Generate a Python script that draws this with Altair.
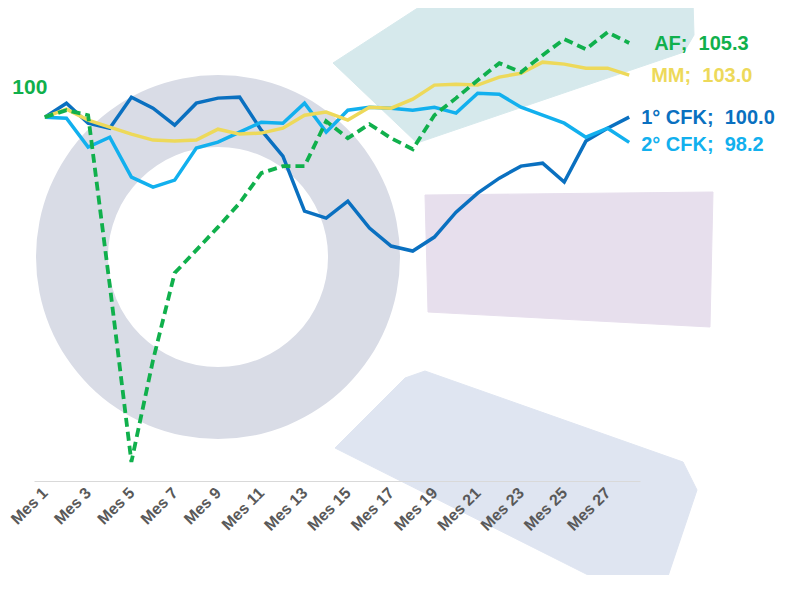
import altair as alt
import pandas as pd

# ---------------- data ----------------
MONTHS = ["Mes 1", "Mes 2", "Mes 3", "Mes 4", "Mes 5", "Mes 6", "Mes 7", "Mes 8",
          "Mes 9", "Mes 10", "Mes 11", "Mes 12", "Mes 13", "Mes 14", "Mes 15",
          "Mes 16", "Mes 17", "Mes 18", "Mes 19", "Mes 20", "Mes 21", "Mes 22",
          "Mes 23", "Mes 24", "Mes 25", "Mes 26", "Mes 27", "Mes 28"]
LABELED_MONTHS = ["Mes 1", "Mes 3", "Mes 5", "Mes 7", "Mes 9", "Mes 11", "Mes 13",
                  "Mes 15", "Mes 17", "Mes 19", "Mes 21", "Mes 23", "Mes 25", "Mes 27"]

CFK1 = [100.0, 101.0, 99.57, 99.21, 101.43, 100.64, 99.43, 101.0, 101.36, 101.43,
        99.07, 97.21, 93.29, 92.79, 94.0, 92.07, 90.79, 90.43, 91.43, 93.21,
        94.57, 95.64, 96.5, 96.71, 95.36, 98.29, 99.21, 100.0]
CFK2 = [100.0, 99.93, 97.86, 98.57, 95.71, 95.0, 95.5, 97.79, 98.21, 98.93,
        99.64, 99.57, 101.0, 98.93, 100.5, 100.71, 100.64, 100.5, 100.71, 100.29,
        101.71, 101.64, 100.71, 100.14, 99.57, 98.57, 99.21, 98.2]
MM = [100.0, 100.57, 99.79, 99.29, 98.79, 98.36, 98.29, 98.36, 99.14, 98.79,
      98.86, 99.21, 100.14, 100.36, 99.79, 100.71, 100.64, 101.29, 102.29, 102.36,
      102.29, 102.86, 103.14, 103.93, 103.79, 103.5, 103.5, 103.0]
AF = [100.0, 100.5, 100.14, 88.0, 75.36, 82.64, 88.86, 90.5, 92.14, 93.86,
      96.0, 96.5, 96.5, 99.71, 98.5, 99.5, 98.5, 97.71, 100.14, 101.36,
      102.64, 103.86, 103.21, 104.43, 105.57, 104.86, 106.07, 105.3]

SERIES = ["1° CFK", "2° CFK", "MM", "AF"]
END_LABELS = ["1° CFK;\u00a0 100.0", "2° CFK;\u00a0 98.2", "MM;\u00a0 103.0", "AF;\u00a0 105.3"]
START_LABEL = "100"

# ---------------- style ----------------
COLORS = {"1° CFK": "#0A70C0", "2° CFK": "#12B0EE", "MM": "#EDD95A", "AF": "#10B04C"}
LABEL_OFFSETS = {"1° CFK": (12, 1), "2° CFK": (12, 3), "MM": (22, 1), "AF": (25, 1)}
FONT = "Liberation Sans"

# decorative background shapes, in page pixel coordinates
RING = {"cx": 218, "cy": 257, "r_out": 182, "r_in": 110, "color": "#D9DCE6"}
TEAL = [(333, 63), (430, 0), (693, 0), (694, 35), (684, 52), (417, 143)]
LAVENDER = [(425, 195), (713, 192), (710, 327), (428, 312)]
BLUEGRAY = [(335, 448), (405, 378), (425, 371), (683, 462), (697, 490), (663, 591), (620, 591)]
SHAPE_COLORS = {"teal": "#D6E9EC", "lav": "#E7DFED", "blue": "#DFE5F1"}

# ---------------- layout ----------------
PLOT_W, PLOT_H = 606, 473
PAD_L, PAD_T = 26, 0
PAD_R, PAD_B = 137, 94
Y_DOMAIN = [74, 107.8]

DX = alt.Scale(domain=[PAD_L + 8, PAD_L + 8 + PLOT_W], nice=False, zero=False)
DY = alt.Scale(domain=[PAD_T + 8, PAD_T + 8 + PLOT_H], nice=False, zero=False, reverse=True)


def poly_layer(pts, color):
    df = pd.DataFrame({"i": list(range(len(pts))),
                       "px": [p[0] for p in pts],
                       "py": [p[1] for p in pts]})
    return alt.Chart(df).mark_line(
        fill=color, stroke=color, strokeWidth=1, interpolate="linear-closed"
    ).encode(
        x=alt.X("px:Q", scale=DX, axis=None),
        y=alt.Y("py:Q", scale=DY, axis=None),
        order="i:Q",
    )


ring_df = pd.DataFrame({"cx": [RING["cx"]], "cy": [RING["cy"]]})
ring = alt.Chart(ring_df).mark_arc(
    radius=RING["r_out"], radius2=RING["r_in"], theta=0, theta2=6.2832,
    color=RING["color"]
).encode(
    x=alt.X("cx:Q", scale=DX, axis=None),
    y=alt.Y("cy:Q", scale=DY, axis=None),
)

decor = alt.layer(
    ring,
    poly_layer(TEAL, SHAPE_COLORS["teal"]),
    poly_layer(LAVENDER, SHAPE_COLORS["lav"]),
    poly_layer(BLUEGRAY, SHAPE_COLORS["blue"]),
)

# ---------------- main chart ----------------
rows = []
for name, vals in zip(SERIES, [CFK1, CFK2, MM, AF]):
    for m, v in zip(MONTHS, vals):
        rows.append({"month": m, "series": name, "value": v})
df = pd.DataFrame(rows)

x_axis = alt.Axis(
    values=LABELED_MONTHS, labelAngle=-45, labelAlign="right", labelBaseline="middle",
    labelFont=FONT, labelFontWeight="bold", labelFontSize=16, labelColor="#595959",
    ticks=False, domainColor="#D9D9D9", domainWidth=1, grid=False, title=None,
    labelPadding=9, labelOverlap=False, zindex=1,
)
XS = alt.Scale(domain=MONTHS)
YS = alt.Scale(domain=Y_DOMAIN, nice=False, zero=False)
X_ENC = alt.X("month:O", scale=XS, sort=MONTHS, axis=x_axis)
Y_ENC = alt.Y("value:Q", scale=YS, axis=None)

layers = []
for name in SERIES:
    sub = df[df["series"] == name]
    mk = dict(color=COLORS[name], strokeWidth=3.5)
    if name == "AF":
        mk.update(strokeDash=[9, 5], strokeWidth=3.8)
    layers.append(alt.Chart(sub).mark_line(**mk).encode(x=X_ENC, y=Y_ENC))

for name, lab in zip(SERIES, END_LABELS):
    sub = df[(df["series"] == name) & (df["month"] == MONTHS[-1])].copy()
    sub["label"] = lab
    dx, dy = LABEL_OFFSETS[name]
    layers.append(
        alt.Chart(sub).mark_text(
            align="left", baseline="middle", dx=dx, dy=dy, font=FONT,
            fontWeight="bold", fontSize=20, color=COLORS[name]
        ).encode(x=X_ENC, y=Y_ENC, text="label:N")
    )

start = df[(df["series"] == "AF") & (df["month"] == MONTHS[0])].copy()
start["label"] = START_LABEL
layers.append(
    alt.Chart(start).mark_text(
        align="center", baseline="middle", dx=-15, dy=-29, font=FONT,
        fontWeight="bold", fontSize=21, color=COLORS["AF"]
    ).encode(x=X_ENC, y=Y_ENC, text="label:N")
)

main = alt.layer(*layers)

chart = alt.layer(decor, main).resolve_scale(
    x="independent", y="independent"
).properties(
    width=PLOT_W, height=PLOT_H,
    padding={"left": PAD_L, "top": PAD_T, "right": PAD_R, "bottom": PAD_B},
    autosize=alt.AutoSizeParams(type="none"),
    background="white",
).configure_view(stroke=None)

chart.save("out.html", embed_options={"renderer": "svg", "actions": False})
